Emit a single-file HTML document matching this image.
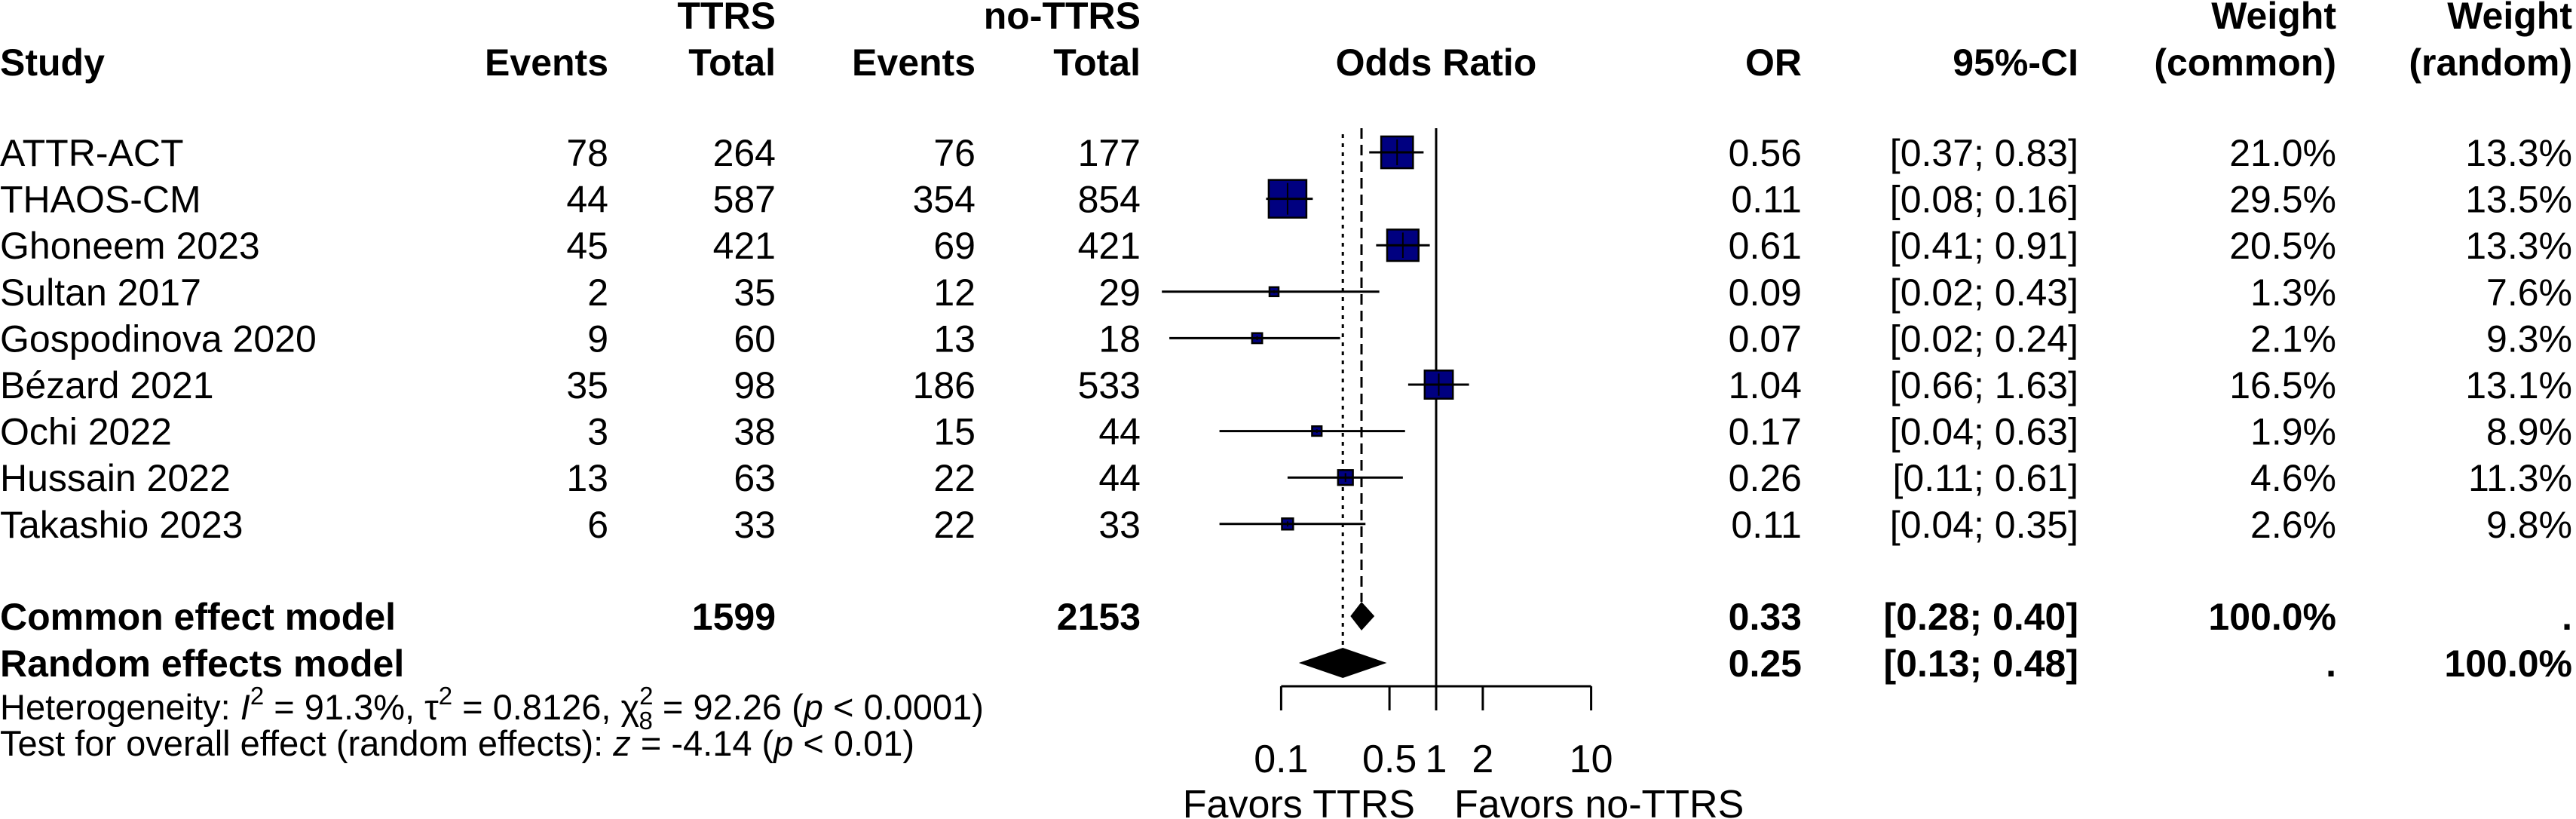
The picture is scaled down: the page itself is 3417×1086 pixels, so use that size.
<!DOCTYPE html>
<html><head><meta charset="utf-8"><style>
html,body{margin:0;padding:0;background:#fff;}
svg{display:block;font-family:"Liberation Sans",Arial,sans-serif;}
</style></head><body>
<svg id="fp" width="3417" height="1086" viewBox="0 0 3417 1086" xmlns="http://www.w3.org/2000/svg">
<g id="hdr" font-weight="bold" font-size="50">
<text x="1029" y="38" text-anchor="end">TTRS</text>
<text x="1513" y="38" text-anchor="end">no-TTRS</text>
<text x="3099" y="38" text-anchor="end">Weight</text>
<text x="3412" y="38" text-anchor="end">Weight</text>
<text x="0" y="100">Study</text>
<text x="807" y="100" text-anchor="end">Events</text>
<text x="1029" y="100" text-anchor="end">Total</text>
<text x="1294" y="100" text-anchor="end">Events</text>
<text x="1513" y="100" text-anchor="end">Total</text>
<text x="1905" y="100" text-anchor="middle">Odds Ratio</text>
<text x="2390" y="100" text-anchor="end">OR</text>
<text x="2757" y="100" text-anchor="end">95%-CI</text>
<text x="3099" y="100" text-anchor="end">(common)</text>
<text x="3412" y="100" text-anchor="end">(random)</text>
</g>
<g id="rows" font-size="50"></g>
<g id="marks"></g>
<g id="foot" font-size="47">
<text x="0" y="954">Heterogeneity: <tspan font-style="italic">I</tspan><tspan dy="-20" font-size="33">2</tspan><tspan dy="20"> = 91.3%, τ</tspan><tspan dy="-20" font-size="33">2</tspan><tspan dy="20"> = 0.8126, χ</tspan><tspan dy="-20" font-size="33">2</tspan><tspan dx="-19" dy="33" font-size="33">8</tspan><tspan dy="-13"> = 92.26 (</tspan><tspan font-style="italic">p</tspan> &lt; 0.0001)</text>
<text x="0" y="1002">Test for overall effect (random effects): <tspan font-style="italic">z</tspan> = -4.14 (<tspan font-style="italic">p</tspan> &lt; 0.01)</text>
</g>
</svg>
<script>
const studies=["ATTR-ACT","THAOS-CM","Ghoneem 2023","Sultan 2017","Gospodinova 2020","Bézard 2021","Ochi 2022","Hussain 2022","Takashio 2023"];
const evT=[78,44,45,2,9,35,3,13,6];
const totT=[264,587,421,35,60,98,38,63,33];
const evC=[76,354,69,12,13,186,15,22,22];
const totC=[177,854,421,29,18,533,44,44,33];
const orVals=[0.56,0.11,0.61,0.09,0.07,1.04,0.17,0.26,0.11];
const ciLow=[0.37,0.08,0.41,0.017,0.019,0.66,0.04,0.11,0.04];
const ciHigh=[0.83,0.16,0.91,0.43,0.24,1.63,0.63,0.61,0.35];
const ciLowTxt=["0.37","0.08","0.41","0.02","0.02","0.66","0.04","0.11","0.04"];
const ciHighTxt=["0.83","0.16","0.91","0.43","0.24","1.63","0.63","0.61","0.35"];
const wCommon=[21.0,29.5,20.5,1.3,2.1,16.5,1.9,4.6,2.6];
const wRandom=[13.3,13.5,13.3,7.6,9.3,13.1,8.9,11.3,9.8];
const commonOR=[0.33,0.28,0.40];
const randomOR=[0.25,0.13,0.48];
const tickVals=[0.1,0.5,1,2,10];
const tickLabels=["0.1","0.5","1","2","10"];

const NS="http://www.w3.org/2000/svg";
const X=v=>1905+205.6*Math.log10(v);
const Y=i=>202+61.6*i;
const commonY=817, randomY=879, axisY=910;
function mk(tag,attrs,parent,txt){const e=document.createElementNS(NS,tag);for(const k in attrs)e.setAttribute(k,attrs[k]);if(txt!==undefined)e.textContent=txt;parent.appendChild(e);return e;}
const rows=document.getElementById('rows'), marks=document.getElementById('marks');
const f2=v=>v.toFixed(2), f1=v=>v.toFixed(1)+"%";
studies.forEach((s,i)=>{
  const y=Y(i)+18;
  const g=mk('g',{},rows);
  
  
  const cols=[[0,'start',s],[807,'end',evT[i]],[1029,'end',totT[i]],[1294,'end',evC[i]],[1513,'end',totC[i]],[2390,'end',f2(orVals[i])],[2757,'end','['+ciLowTxt[i]+'; '+ciHighTxt[i]+']'],[3099,'end',f1(wCommon[i])],[3412,'end',f1(wRandom[i])]];
  cols.forEach(c=>{const t=mk('text',{x:c[0],y:y,'text-anchor':c[1]},g,String(c[2]));
    
    });
});
function sumRow(y,label,c1,c2,or,ci,w1,w2){
  const g=mk('g',{'font-weight':'bold'},rows);
  
  
  [[0,'start',label],[1029,'end',c1],[1513,'end',c2],[2390,'end',or],[2757,'end',ci],[3099,'end',w1],[3412,'end',w2]].forEach(c=>{mk('text',{x:c[0],y:y+18,'text-anchor':c[1]},g,c[2]);});
}
sumRow(commonY,"Common effect model",String(totT.reduce((a,b)=>a+b,0)),String(totC.reduce((a,b)=>a+b,0)),f2(commonOR[0]),'['+f2(commonOR[1])+'; '+f2(commonOR[2])+']',"100.0%",".");
sumRow(randomY,"Random effects model","","",f2(randomOR[0]),'['+f2(randomOR[1])+'; '+f2(randomOR[2])+']',".","100.0%");

const nl=mk('line',{x1:X(1),x2:X(1),y1:170,y2:axisY,stroke:'#000','stroke-width':3},marks);


const cl=mk('line',{x1:X(commonOR[0]),x2:X(commonOR[0]),y1:170,y2:commonY-19,stroke:'#000','stroke-width':3,'stroke-dasharray':'14 8'},marks);


const rl=mk('line',{x1:X(randomOR[0]),x2:X(randomOR[0]),y1:178,y2:randomY-20,stroke:'#000','stroke-width':3,'stroke-dasharray':'5 7'},marks);



studies.forEach((s,i)=>{
  const y=Y(i), x=X(orVals[i]);
  const sz=Math.max(12,50*Math.sqrt(wCommon[i]/29.5));
  const b=mk('rect',{x:x-sz/2,y:y-sz/2,width:sz,height:sz,fill:'#000080',stroke:'#000','stroke-width':2.5},marks);
  
  
  const l=mk('line',{x1:X(ciLow[i]),x2:X(ciHigh[i]),y1:y,y2:y,stroke:'#000','stroke-width':3},marks);
  
  
  const t=mk('line',{x1:x,x2:x,y1:y-sz/2+4,y2:y+sz/2-4,stroke:'#000','stroke-width':2},marks);
  
  
});
function diamond(vals,y,h,name){
  const p=mk('polygon',{points:`${X(vals[1])},${y} ${X(vals[0])},${y-h} ${X(vals[2])},${y} ${X(vals[0])},${y+h}`,fill:'#000'},marks);
  
  
}
diamond(commonOR,commonY,19,'common-diamond');
diamond(randomOR,randomY,20,'random-diamond');

const ax=mk('line',{x1:X(tickVals[0]),x2:X(tickVals[tickVals.length-1]),y1:axisY,y2:axisY,stroke:'#000','stroke-width':3},marks);


tickVals.forEach((v,i)=>{
  const tk=mk('line',{x1:X(v),x2:X(v),y1:axisY,y2:942,stroke:'#000','stroke-width':3},marks);
  
  
  const tl=mk('text',{x:X(v),y:1024,'text-anchor':'middle','font-size':52},marks,tickLabels[i]);
  
  
});
const fa=mk('text',{x:X(1)-28,y:1084,'text-anchor':'end','font-size':52},marks,'Favors TTRS');


const fb=mk('text',{x:X(1)+24,y:1084,'text-anchor':'start','font-size':52},marks,'Favors no-TTRS');


</script>
</body></html>
